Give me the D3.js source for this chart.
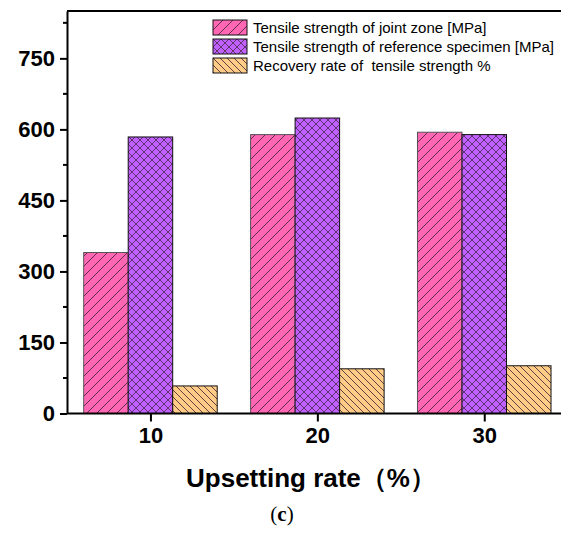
<!DOCTYPE html>
<html>
<head>
<meta charset="utf-8">
<script src="https://cdn.jsdelivr.net/npm/d3@7"></script>
<style>
  html, body { margin: 0; padding: 0; background: #fff; }
  svg { display: block; }
</style>
</head>
<body>
<script>
// Upsetting rate groups and measured values
const upsettingRates = [10, 20, 30];
const jointStrength = [340, 589, 594];        // MPa
const referenceStrength = [584, 624, 589];    // MPa
const recoveryRate = [58.2, 94.4, 100.8];     // %
const yTicks = [0, 150, 300, 450, 600, 750];
const yMinorTicks = [75, 225, 375, 525, 675, 825];

const seriesNames = [
  "Tensile strength of joint zone [MPa]",
  "Tensile strength of reference specimen [MPa]",
  "Recovery rate of  tensile strength %"
];
const seriesValues = [jointStrength, referenceStrength, recoveryRate];
const seriesFills = ["#ff66b3", "#c060ff", "#ffcc88"];
const seriesPatterns = ["hatchFwd", "hatchCross", "hatchBack"];

const SANS = "'Liberation Sans', Arial, sans-serif";
const W = 561, H = 552;
const svg = d3.select("body").append("svg")
  .attr("width", W).attr("height", H)
  .attr("font-family", SANS);

// Hatch patterns
const defs = svg.append("defs");
function makePattern(id, fill, size, paths, sw) {
  const p = defs.append("pattern").attr("id", id)
    .attr("patternUnits", "userSpaceOnUse")
    .attr("width", size).attr("height", size);
  p.append("rect").attr("width", size).attr("height", size).attr("fill", fill);
  paths.forEach(d => p.append("path").attr("d", d)
    .attr("stroke", "#3a2030").attr("stroke-width", sw).attr("fill", "none"));
}
makePattern("hatchFwd", seriesFills[0], 10,
  ["M-2,2 L2,-2", "M0,10 L10,0", "M8,12 L12,8"], 0.8);
makePattern("hatchCross", seriesFills[1], 8,
  ["M-1,1 L1,-1", "M0,8 L8,0", "M7,9 L9,7", "M-1,7 L1,9", "M0,0 L8,8", "M7,-1 L9,1"], 0.7);
makePattern("hatchBack", seriesFills[2], 7,
  ["M-1,6 L1,8", "M0,0 L7,7", "M6,-1 L8,1"], 0.8);

const plot = { left: 67, right: 567.7, top: 11, bottom: 413.5 };

const x = d3.scaleLinear().domain([5, 35]).range([plot.left, plot.right]);
const y = d3.scaleLinear().domain([0, 850]).range([plot.bottom, plot.top]);
const barW = 8 / 3; // bar width in upsetting-rate units (three bars per group)

// Bars
seriesValues.forEach((vals, si) => {
  svg.append("g").selectAll("rect")
    .data(upsettingRates.map((r, i) => ({ r, v: vals[i] })))
    .join("rect")
    .attr("x", d => x(d.r + (si - 1.5) * barW))
    .attr("width", d => x(d.r + (si - 0.5) * barW) - x(d.r + (si - 1.5) * barW))
    .attr("y", d => y(d.v))
    .attr("height", d => y(0) - y(d.v))
    .attr("fill", `url(#${seriesPatterns[si]})`)
    .attr("stroke", si === 0 ? "#555" : "#111")
    .attr("stroke-width", 1);
});

// Top frame line
svg.append("line")
  .attr("x1", plot.left).attr("x2", W + 10)
  .attr("y1", plot.top).attr("y2", plot.top)
  .attr("stroke", "#000").attr("stroke-width", 2);

// Y axis
const yAxis = svg.append("g").attr("transform", `translate(${plot.left},0)`)
  .call(d3.axisLeft(y).tickValues(yTicks).tickSize(7).tickPadding(5).tickSizeOuter(0))
  .attr("font-family", SANS);
yAxis.select(".domain").attr("stroke-width", 2);
yAxis.selectAll(".tick line").attr("stroke-width", 2);
yAxis.selectAll("text").attr("font-size", 22).attr("font-weight", "bold").attr("fill", "#000");
svg.append("g").attr("transform", `translate(${plot.left},0)`)
  .selectAll("line").data(yMinorTicks).join("line")
  .attr("x1", -4).attr("x2", 0)
  .attr("y1", d => y(d)).attr("y2", d => y(d))
  .attr("stroke", "#000").attr("stroke-width", 2);

// X axis
const xAxis = svg.append("g").attr("transform", `translate(0,${plot.bottom})`)
  .call(d3.axisBottom(x).tickValues(upsettingRates).tickSize(8).tickPadding(6).tickSizeOuter(0))
  .attr("font-family", SANS);
xAxis.select(".domain").attr("stroke-width", 2).attr("d", `M${plot.left},0H${W + 10}`);
xAxis.selectAll(".tick line").attr("stroke-width", 2);
xAxis.selectAll("text").attr("font-size", 22).attr("font-weight", "bold").attr("fill", "#000");

// Axis title
svg.append("text")
  .attr("x", 311).attr("y", 487)
  .attr("text-anchor", "middle")
  .attr("font-size", 26).attr("font-weight", "bold")
  .text("Upsetting rate（%）");

// Panel label
const lab = svg.append("text")
  .attr("x", 282).attr("y", 521)
  .attr("text-anchor", "middle")
  .attr("font-family", "'Liberation Serif', 'DejaVu Serif', serif")
  .attr("font-size", 21);
lab.append("tspan").text("(");
lab.append("tspan").attr("font-weight", "bold").text("c");
lab.append("tspan").text(")");

// Legend
const legend = svg.append("g").attr("transform", "translate(213,20)");
seriesNames.forEach((name, i) => {
  const g = legend.append("g").attr("transform", `translate(0,${i * 19})`);
  g.append("rect").attr("width", 34).attr("height", 15)
    .attr("fill", `url(#${seriesPatterns[i]})`)
    .attr("stroke", "#111").attr("stroke-width", 1);
  g.append("text").attr("x", 40).attr("y", 13)
    .attr("font-size", 15).attr("fill", "#000")
    .style("white-space", "pre")
    .text(name);
});
</script>
</body>
</html>
